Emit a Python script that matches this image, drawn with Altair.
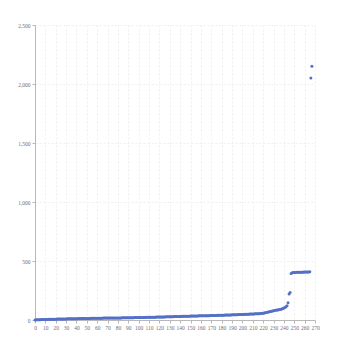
import altair as alt
import pandas as pd

# Sorted measurements, one per record (index 0..267)
values = [
    1, 2, 2, 3, 3, 3, 4, 4, 4, 5,
    5, 5, 5, 6, 6, 6, 6, 7, 7, 7,
    7, 8, 8, 8, 8, 8, 9, 9, 9, 9,
    9, 10, 10, 10, 10, 10, 11, 11, 11, 11,
    11, 11, 12, 12, 12, 12, 12, 12, 13, 13,
    13, 13, 13, 13, 14, 14, 14, 14, 14, 14,
    15, 15, 15, 15, 15, 15, 16, 16, 16, 16,
    16, 16, 17, 17, 17, 17, 17, 17, 18, 18,
    18, 18, 18, 18, 19, 19, 19, 19, 19, 19,
    20, 20, 20, 20, 20, 20, 21, 21, 21, 21,
    21, 21, 22, 22, 22, 22, 22, 23, 23, 23,
    23, 23, 24, 24, 24, 24, 24, 25, 25, 25,
    25, 25, 26, 26, 26, 26, 27, 27, 27, 27,
    28, 28, 28, 28, 29, 29, 29, 29, 30, 30,
    30, 30, 31, 31, 31, 31, 32, 32, 32, 32,
    33, 33, 33, 33, 34, 34, 34, 34, 35, 35,
    35, 35, 36, 36, 36, 37, 37, 37, 37, 38,
    38, 38, 38, 39, 39, 39, 40, 40, 40, 40,
    41, 41, 41, 42, 42, 42, 42, 43, 43, 43,
    44, 44, 44, 45, 45, 45, 46, 46, 46, 47,
    47, 47, 48, 48, 48, 49, 49, 50, 50, 50,
    51, 51, 52, 52, 53, 53, 54, 55, 56, 57,
    58, 60, 62, 64, 66, 68, 70, 72, 74, 76,
    78, 80, 82, 84, 85, 87, 89, 91, 94, 97,
    101, 106, 112, 120, 147, 220, 232, 395, 400, 402,
    403, 403, 404, 404, 404, 405, 405, 405, 405, 406,
    406, 406, 406, 407, 407, 408, 2050, 2150,
]
indices = list(range(len(values)))

x_ticks = list(range(0, 271, 10))
y_ticks = [0, 500, 1000, 1500, 2000, 2500]

df = pd.DataFrame({"idx": indices, "value": values})

label_color = "#6e7079"
axis_color = "#b8b8b8"
grid_color = "#efefef"

chart = (
    alt.Chart(df)
    .mark_circle(size=9, color="#5470c6", opacity=1)
    .encode(
        x=alt.X(
            "idx:Q",
            scale=alt.Scale(domain=[0, 270], nice=False, zero=False),
            axis=alt.Axis(
                values=x_ticks,
                format="d",
                title=None,
                labelFontSize=5.5,
                labelColor=label_color,
                labelPadding=2,
                labelOverlap=False,
                labelFlush=False,
                tickSize=3,
                tickColor=axis_color,
                domainColor=axis_color,
                gridDash=[2, 2],
                gridColor=grid_color,
            ),
        ),
        y=alt.Y(
            "value:Q",
            scale=alt.Scale(domain=[0, 2500], nice=False),
            axis=alt.Axis(
                values=y_ticks,
                format=",.0f",
                title=None,
                labelFontSize=5.5,
                labelColor=label_color,
                labelPadding=2,
                tickSize=3,
                tickColor=axis_color,
                domainColor=axis_color,
                gridDash=[2, 2],
                gridColor=grid_color,
            ),
        ),
    )
    .properties(
        width=280,
        height=295,
        padding={"left": 35, "top": 25, "right": 35, "bottom": 30},
        autosize=alt.AutoSizeParams(type="none"),
    )
    .configure_view(stroke=None)
    .configure_axis(labelFont="Liberation Sans Narrow")
)

chart.save("out.html", embed_options={"renderer": "svg", "actions": False})
